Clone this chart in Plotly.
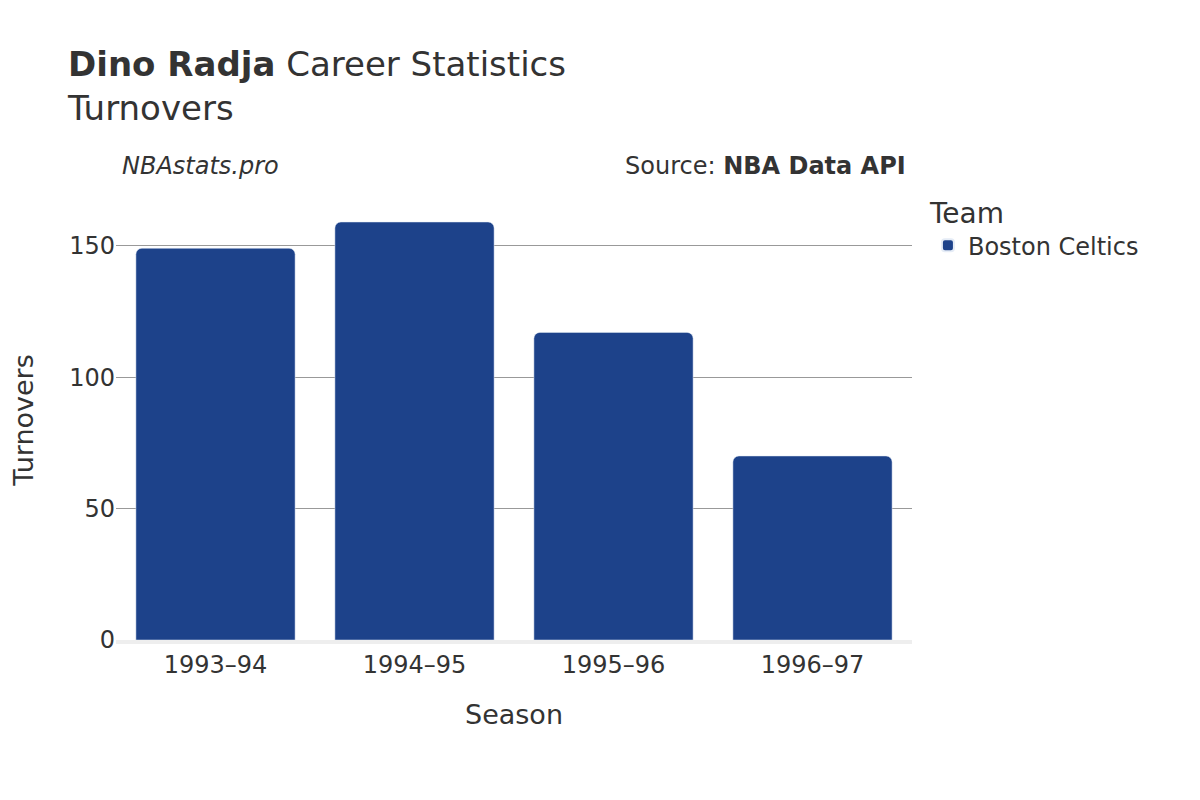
import plotly.graph_objects as go

seasons = ["1993–94", "1994–95", "1995–96", "1996–97"]
turnovers = [149, 159, 117, 70]
team = "Boston Celtics"

fig = go.Figure()
fig.add_trace(go.Bar(x=seasons, y=turnovers, name=team, marker_color="#1d428a"))

fig.update_layout(
    width=1200, height=800,
    font=dict(family="DejaVu Sans", color="#333", size=22),
    plot_bgcolor="white", paper_bgcolor="white",
    barcornerradius=6,
    bargap=0.2,
    title=dict(text="<b>Dino Radja</b> Career Statistics<br>Turnovers",
               x=0.05, xanchor="left", y=0.915, yanchor="top",
               font=dict(size=34)),
    margin=dict(l=100, r=296, t=192, b=168),
    xaxis=dict(title=dict(text="Season", font=dict(size=27), standoff=28), showline=True,
               linecolor="#eee", linewidth=4, ticks="", tickfont=dict(size=24)),
    yaxis=dict(title=dict(text="Turnovers", font=dict(size=27), standoff=30), gridcolor="#999",
               tickvals=[0, 50, 100, 150], zeroline=False, tickfont=dict(size=24)),
    legend=dict(title=dict(text="Team", font=dict(size=28)), x=1.02, y=1.03,
                xanchor="left", yanchor="top", font=dict(size=24), itemsizing="constant"),
    showlegend=True,
    annotations=[
        dict(text="<i>NBAstats.pro</i>", xref="paper", yref="paper", x=0.005, y=1.04,
             xanchor="left", yanchor="bottom", showarrow=False, font=dict(size=24)),
        dict(text="Source: <b>NBA Data API</b>", xref="paper", yref="paper", x=0.995, y=1.04,
             xanchor="right", yanchor="bottom", showarrow=False, font=dict(size=24)),
    ],
)

fig.write_html("out.html")
